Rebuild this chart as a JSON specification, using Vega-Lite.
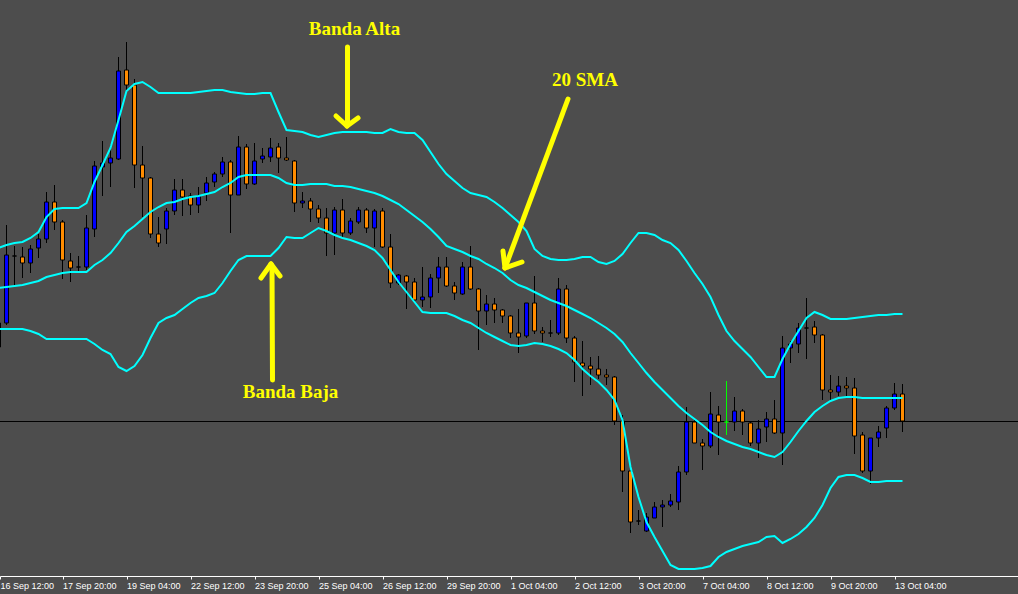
{
  "$schema": "https://vega.github.io/schema/vega-lite/v6.json",
  "width": 1018,
  "height": 576,
  "autosize": {"type": "none"},
  "padding": {"left": 0, "top": 0, "right": 0, "bottom": 18},
  "background": "#4d4d4d",
  "config": {"view": {"stroke": null}, "scale": {"continuousPadding": 0}},
  "datasets": {
    "candles": [
      {"i":-1,"o":1.2653,"h":1.2680,"l":1.2648,"c":1.2677,"k":"up","u":1.2752,"m":1.2712,"d":1.2671},
      {"i":0,"o":1.2677,"h":1.2775,"l":1.2675,"c":1.2745,"k":"up","u":1.2755,"m":1.2713,"d":1.2671},
      {"i":1,"o":1.2744,"h":1.2754,"l":1.2713,"c":1.2744,"k":"doji","u":1.2757,"m":1.2714,"d":1.2671},
      {"i":2,"o":1.2743,"h":1.2753,"l":1.2722,"c":1.2737,"k":"down","u":1.2758,"m":1.2715,"d":1.2671},
      {"i":3,"o":1.2737,"h":1.2755,"l":1.2727,"c":1.2751,"k":"up","u":1.2762,"m":1.2717,"d":1.2669},
      {"i":4,"o":1.2752,"h":1.2766,"l":1.2742,"c":1.2761,"k":"up","u":1.2768,"m":1.2719,"d":1.2666},
      {"i":5,"o":1.2761,"h":1.2808,"l":1.2757,"c":1.2798,"k":"up","u":1.2783,"m":1.2723,"d":1.2661},
      {"i":6,"o":1.2798,"h":1.2815,"l":1.2770,"c":1.2778,"k":"down","u":1.2791,"m":1.2725,"d":1.2661},
      {"i":7,"o":1.2778,"h":1.2780,"l":1.2721,"c":1.2740,"k":"down","u":1.2792,"m":1.2727,"d":1.2661},
      {"i":8,"o":1.2739,"h":1.2747,"l":1.2718,"c":1.2732,"k":"down","u":1.2792,"m":1.2728,"d":1.2661},
      {"i":9,"o":1.2733,"h":1.2744,"l":1.2728,"c":1.2733,"k":"doji","u":1.2792,"m":1.2728,"d":1.2661},
      {"i":10,"o":1.2733,"h":1.2785,"l":1.2730,"c":1.2772,"k":"up","u":1.2797,"m":1.2728,"d":1.2661},
      {"i":11,"o":1.2771,"h":1.2839,"l":1.2763,"c":1.2834,"k":"up","u":1.2818,"m":1.2735,"d":1.2656},
      {"i":12,"o":1.2833,"h":1.2859,"l":1.2804,"c":1.2837,"k":"up","u":1.2835,"m":1.2740,"d":1.2650},
      {"i":13,"o":1.2837,"h":1.2855,"l":1.2813,"c":1.2842,"k":"up","u":1.2852,"m":1.2747,"d":1.2646},
      {"i":14,"o":1.2841,"h":1.2943,"l":1.2840,"c":1.2929,"k":"up","u":1.2880,"m":1.2757,"d":1.2633},
      {"i":15,"o":1.2930,"h":1.2958,"l":1.2907,"c":1.2915,"k":"down","u":1.2909,"m":1.2768,"d":1.2629},
      {"i":16,"o":1.2915,"h":1.2921,"l":1.2812,"c":1.2835,"k":"down","u":1.2916,"m":1.2774,"d":1.2634},
      {"i":17,"o":1.2835,"h":1.2854,"l":1.2783,"c":1.2822,"k":"down","u":1.2918,"m":1.2781,"d":1.2645},
      {"i":18,"o":1.2822,"h":1.2823,"l":1.2762,"c":1.2766,"k":"down","u":1.2913,"m":1.2788,"d":1.2662},
      {"i":19,"o":1.2766,"h":1.2783,"l":1.2753,"c":1.2757,"k":"down","u":1.2907,"m":1.2793,"d":1.2677},
      {"i":20,"o":1.2771,"h":1.2792,"l":1.2756,"c":1.2789,"k":"up","u":1.2907,"m":1.2797,"d":1.2682},
      {"i":21,"o":1.2789,"h":1.2821,"l":1.2785,"c":1.2810,"k":"up","u":1.2907,"m":1.2798,"d":1.2685},
      {"i":22,"o":1.2810,"h":1.2821,"l":1.2784,"c":1.2803,"k":"down","u":1.2907,"m":1.2801,"d":1.2691},
      {"i":23,"o":1.2804,"h":1.2807,"l":1.2785,"c":1.2795,"k":"down","u":1.2907,"m":1.2803,"d":1.2697},
      {"i":24,"o":1.2795,"h":1.2813,"l":1.2787,"c":1.2804,"k":"up","u":1.2908,"m":1.2804,"d":1.2702},
      {"i":25,"o":1.2807,"h":1.2823,"l":1.2799,"c":1.2817,"k":"up","u":1.2909,"m":1.2806,"d":1.2704},
      {"i":26,"o":1.2818,"h":1.2828,"l":1.2813,"c":1.2826,"k":"up","u":1.2910,"m":1.2808,"d":1.2707},
      {"i":27,"o":1.2826,"h":1.2843,"l":1.2823,"c":1.2838,"k":"up","u":1.2910,"m":1.2813,"d":1.2717},
      {"i":28,"o":1.2838,"h":1.2840,"l":1.2767,"c":1.2805,"k":"down","u":1.2908,"m":1.2817,"d":1.2729},
      {"i":29,"o":1.2805,"h":1.2864,"l":1.2805,"c":1.2853,"k":"up","u":1.2907,"m":1.2823,"d":1.2740},
      {"i":30,"o":1.2853,"h":1.2856,"l":1.2811,"c":1.2816,"k":"down","u":1.2906,"m":1.2825,"d":1.2744},
      {"i":31,"o":1.2816,"h":1.2857,"l":1.2815,"c":1.2839,"k":"up","u":1.2906,"m":1.2825,"d":1.2744},
      {"i":32,"o":1.2841,"h":1.2852,"l":1.2837,"c":1.2844,"k":"up","u":1.2907,"m":1.2825,"d":1.2744},
      {"i":33,"o":1.2843,"h":1.2862,"l":1.2838,"c":1.2852,"k":"up","u":1.2907,"m":1.2825,"d":1.2744},
      {"i":34,"o":1.2853,"h":1.2857,"l":1.2827,"c":1.2842,"k":"down","u":1.2888,"m":1.2822,"d":1.2752},
      {"i":35,"o":1.2842,"h":1.2863,"l":1.2839,"c":1.2840,"k":"down","u":1.2870,"m":1.2817,"d":1.2763},
      {"i":36,"o":1.2839,"h":1.2840,"l":1.2788,"c":1.2797,"k":"down","u":1.2869,"m":1.2815,"d":1.2762},
      {"i":37,"o":1.2797,"h":1.2808,"l":1.2792,"c":1.2799,"k":"up","u":1.2868,"m":1.2815,"d":1.2762},
      {"i":38,"o":1.2799,"h":1.2802,"l":1.2778,"c":1.2791,"k":"down","u":1.2865,"m":1.2816,"d":1.2767},
      {"i":39,"o":1.2791,"h":1.2795,"l":1.2777,"c":1.2782,"k":"down","u":1.2863,"m":1.2816,"d":1.2772},
      {"i":40,"o":1.2782,"h":1.2792,"l":1.2744,"c":1.2767,"k":"down","u":1.2865,"m":1.2816,"d":1.2769},
      {"i":41,"o":1.2767,"h":1.2793,"l":1.2745,"c":1.2790,"k":"up","u":1.2867,"m":1.2814,"d":1.2765},
      {"i":42,"o":1.2790,"h":1.2801,"l":1.2762,"c":1.2767,"k":"down","u":1.2868,"m":1.2814,"d":1.2762},
      {"i":43,"o":1.2767,"h":1.2782,"l":1.2765,"c":1.2779,"k":"up","u":1.2868,"m":1.2813,"d":1.2760},
      {"i":44,"o":1.2778,"h":1.2793,"l":1.2776,"c":1.2790,"k":"up","u":1.2868,"m":1.2811,"d":1.2757},
      {"i":45,"o":1.2790,"h":1.2792,"l":1.2767,"c":1.2772,"k":"down","u":1.2868,"m":1.2809,"d":1.2754},
      {"i":46,"o":1.2772,"h":1.2791,"l":1.2753,"c":1.2789,"k":"up","u":1.2867,"m":1.2807,"d":1.2750},
      {"i":47,"o":1.2789,"h":1.2792,"l":1.2752,"c":1.2753,"k":"down","u":1.2867,"m":1.2804,"d":1.2742},
      {"i":48,"o":1.2753,"h":1.2766,"l":1.2712,"c":1.2717,"k":"down","u":1.2871,"m":1.2800,"d":1.2730},
      {"i":49,"o":1.2717,"h":1.2726,"l":1.2715,"c":1.2725,"k":"up","u":1.2868,"m":1.2796,"d":1.2718},
      {"i":50,"o":1.2724,"h":1.2725,"l":1.2691,"c":1.2718,"k":"down","u":1.2867,"m":1.2790,"d":1.2708},
      {"i":51,"o":1.2718,"h":1.2722,"l":1.2699,"c":1.2700,"k":"down","u":1.2867,"m":1.2784,"d":1.2698},
      {"i":52,"o":1.2700,"h":1.2733,"l":1.2693,"c":1.2703,"k":"up","u":1.2860,"m":1.2778,"d":1.2688},
      {"i":53,"o":1.2703,"h":1.2726,"l":1.2692,"c":1.2722,"k":"up","u":1.2848,"m":1.2771,"d":1.2687},
      {"i":54,"o":1.2722,"h":1.2743,"l":1.2707,"c":1.2733,"k":"up","u":1.2836,"m":1.2763,"d":1.2687},
      {"i":55,"o":1.2733,"h":1.2743,"l":1.2713,"c":1.2714,"k":"down","u":1.2826,"m":1.2754,"d":1.2687},
      {"i":56,"o":1.2714,"h":1.2718,"l":1.2700,"c":1.2707,"k":"down","u":1.2819,"m":1.2751,"d":1.2684},
      {"i":57,"o":1.2706,"h":1.2738,"l":1.2705,"c":1.2733,"k":"up","u":1.2812,"m":1.2748,"d":1.2680},
      {"i":58,"o":1.2733,"h":1.2754,"l":1.2710,"c":1.2711,"k":"down","u":1.2807,"m":1.2744,"d":1.2677},
      {"i":59,"o":1.2711,"h":1.2712,"l":1.2650,"c":1.2689,"k":"down","u":1.2805,"m":1.2741,"d":1.2672},
      {"i":60,"o":1.2689,"h":1.2705,"l":1.2675,"c":1.2696,"k":"up","u":1.2803,"m":1.2736,"d":1.2667},
      {"i":61,"o":1.2696,"h":1.2702,"l":1.2677,"c":1.2690,"k":"down","u":1.2798,"m":1.2732,"d":1.2663},
      {"i":62,"o":1.2690,"h":1.2691,"l":1.2677,"c":1.2684,"k":"down","u":1.2792,"m":1.2727,"d":1.2659},
      {"i":63,"o":1.2684,"h":1.2685,"l":1.2662,"c":1.2667,"k":"down","u":1.2785,"m":1.2720,"d":1.2655},
      {"i":64,"o":1.2667,"h":1.2691,"l":1.2647,"c":1.2663,"k":"down","u":1.2778,"m":1.2715,"d":1.2654},
      {"i":65,"o":1.2664,"h":1.2697,"l":1.2662,"c":1.2697,"k":"up","u":1.2769,"m":1.2712,"d":1.2655},
      {"i":66,"o":1.2697,"h":1.2724,"l":1.2666,"c":1.2669,"k":"down","u":1.2751,"m":1.2708,"d":1.2657},
      {"i":67,"o":1.2669,"h":1.2673,"l":1.2658,"c":1.2667,"k":"down","u":1.2744,"m":1.2704,"d":1.2656},
      {"i":68,"o":1.2667,"h":1.2680,"l":1.2663,"c":1.2667,"k":"doji","u":1.2741,"m":1.2700,"d":1.2654},
      {"i":69,"o":1.2667,"h":1.2722,"l":1.2665,"c":1.2711,"k":"up","u":1.2740,"m":1.2697,"d":1.2651},
      {"i":70,"o":1.2711,"h":1.2715,"l":1.2657,"c":1.2662,"k":"down","u":1.2740,"m":1.2694,"d":1.2647},
      {"i":71,"o":1.2662,"h":1.2664,"l":1.2618,"c":1.2638,"k":"down","u":1.2741,"m":1.2690,"d":1.2640},
      {"i":72,"o":1.2637,"h":1.2659,"l":1.2604,"c":1.2634,"k":"down","u":1.2743,"m":1.2686,"d":1.2631},
      {"i":73,"o":1.2634,"h":1.2643,"l":1.2615,"c":1.2631,"k":"down","u":1.2743,"m":1.2682,"d":1.2624},
      {"i":74,"o":1.2631,"h":1.2644,"l":1.2621,"c":1.2625,"k":"down","u":1.2738,"m":1.2677,"d":1.2618},
      {"i":75,"o":1.2625,"h":1.2631,"l":1.2615,"c":1.2623,"k":"down","u":1.2736,"m":1.2672,"d":1.2610},
      {"i":76,"o":1.2623,"h":1.2624,"l":1.2575,"c":1.2579,"k":"down","u":1.2739,"m":1.2666,"d":1.2600},
      {"i":77,"o":1.2579,"h":1.2585,"l":1.2508,"c":1.2529,"k":"down","u":1.2746,"m":1.2658,"d":1.2580},
      {"i":78,"o":1.2529,"h":1.2530,"l":1.2467,"c":1.2478,"k":"down","u":1.2757,"m":1.2647,"d":1.2533},
      {"i":79,"o":1.2479,"h":1.2490,"l":1.2475,"c":1.2479,"k":"doji","u":1.2767,"m":1.2637,"d":1.2503},
      {"i":80,"o":1.2469,"h":1.2487,"l":1.2468,"c":1.2483,"k":"up","u":1.2767,"m":1.2627,"d":1.2478},
      {"i":81,"o":1.2482,"h":1.2498,"l":1.2482,"c":1.2493,"k":"up","u":1.2765,"m":1.2618,"d":1.2463},
      {"i":82,"o":1.2493,"h":1.2500,"l":1.2473,"c":1.2495,"k":"up","u":1.2760,"m":1.2610,"d":1.2449},
      {"i":83,"o":1.2495,"h":1.2506,"l":1.2493,"c":1.2499,"k":"up","u":1.2757,"m":1.2602,"d":1.2435},
      {"i":84,"o":1.2498,"h":1.2534,"l":1.2490,"c":1.2528,"k":"up","u":1.2750,"m":1.2594,"d":1.2431},
      {"i":85,"o":1.2528,"h":1.2593,"l":1.2525,"c":1.2578,"k":"up","u":1.2739,"m":1.2587,"d":1.2431},
      {"i":86,"o":1.2578,"h":1.2582,"l":1.2557,"c":1.2557,"k":"down","u":1.2727,"m":1.2581,"d":1.2431},
      {"i":87,"o":1.2557,"h":1.2561,"l":1.2530,"c":1.2554,"k":"down","u":1.2716,"m":1.2575,"d":1.2432},
      {"i":88,"o":1.2554,"h":1.2608,"l":1.2552,"c":1.2586,"k":"up","u":1.2703,"m":1.2568,"d":1.2434},
      {"i":89,"o":1.2585,"h":1.2594,"l":1.2545,"c":1.2578,"k":"down","u":1.2685,"m":1.2563,"d":1.2443},
      {"i":90,"o":1.2578,"h":1.2619,"l":1.2565,"c":1.2578,"k":"mark","u":1.2669,"m":1.2559,"d":1.2448},
      {"i":91,"o":1.2578,"h":1.2603,"l":1.2569,"c":1.2589,"k":"up","u":1.2659,"m":1.2556,"d":1.2451},
      {"i":92,"o":1.2589,"h":1.2591,"l":1.2565,"c":1.2578,"k":"down","u":1.2651,"m":1.2553,"d":1.2454},
      {"i":93,"o":1.2577,"h":1.2578,"l":1.2554,"c":1.2557,"k":"down","u":1.2643,"m":1.2551,"d":1.2456},
      {"i":94,"o":1.2557,"h":1.2580,"l":1.2542,"c":1.2571,"k":"up","u":1.2633,"m":1.2548,"d":1.2458},
      {"i":95,"o":1.2573,"h":1.2588,"l":1.2558,"c":1.2581,"k":"up","u":1.2623,"m":1.2545,"d":1.2463},
      {"i":96,"o":1.2581,"h":1.2600,"l":1.2566,"c":1.2567,"k":"down","u":1.2623,"m":1.2543,"d":1.2464},
      {"i":97,"o":1.2567,"h":1.2664,"l":1.2535,"c":1.2652,"k":"up","u":1.2641,"m":1.2548,"d":1.2457},
      {"i":98,"o":1.2652,"h":1.2659,"l":1.2637,"c":1.2656,"k":"up","u":1.2656,"m":1.2558,"d":1.2461},
      {"i":99,"o":1.2656,"h":1.2677,"l":1.2647,"c":1.2672,"k":"up","u":1.2669,"m":1.2569,"d":1.2466},
      {"i":100,"o":1.2672,"h":1.2702,"l":1.2641,"c":1.2672,"k":"doji","u":1.2682,"m":1.2579,"d":1.2473},
      {"i":101,"o":1.2673,"h":1.2679,"l":1.2657,"c":1.2665,"k":"down","u":1.2688,"m":1.2588,"d":1.2482},
      {"i":102,"o":1.2665,"h":1.2666,"l":1.2600,"c":1.2610,"k":"down","u":1.2685,"m":1.2594,"d":1.2495},
      {"i":103,"o":1.2610,"h":1.2625,"l":1.2598,"c":1.2608,"k":"down","u":1.2681,"m":1.2599,"d":1.2512},
      {"i":104,"o":1.2608,"h":1.2624,"l":1.2604,"c":1.2614,"k":"up","u":1.2681,"m":1.2602,"d":1.2523},
      {"i":105,"o":1.2614,"h":1.2623,"l":1.2603,"c":1.2612,"k":"down","u":1.2681,"m":1.2603,"d":1.2525},
      {"i":106,"o":1.2612,"h":1.2622,"l":1.2546,"c":1.2564,"k":"down","u":1.2682,"m":1.2603,"d":1.2525},
      {"i":107,"o":1.2565,"h":1.2568,"l":1.2527,"c":1.2529,"k":"down","u":1.2683,"m":1.2602,"d":1.2522},
      {"i":108,"o":1.2529,"h":1.2562,"l":1.2516,"c":1.2562,"k":"up","u":1.2684,"m":1.2602,"d":1.2518},
      {"i":109,"o":1.2562,"h":1.2574,"l":1.2553,"c":1.2568,"k":"up","u":1.2685,"m":1.2602,"d":1.2518},
      {"i":110,"o":1.2572,"h":1.2594,"l":1.2562,"c":1.2592,"k":"up","u":1.2685,"m":1.2602,"d":1.2519},
      {"i":111,"o":1.2592,"h":1.2617,"l":1.2590,"c":1.2606,"k":"up","u":1.2686,"m":1.2602,"d":1.2519},
      {"i":112,"o":1.2606,"h":1.2616,"l":1.2568,"c":1.2579,"k":"down","u":1.2686,"m":1.2602,"d":1.2519}
    ],
    "arrows": [
      {"x1":42.625,"y1":1.2953,"x2":42.625,"y2":1.2876},
      {"x1":42.5625,"y1":1.2874,"x2":41.1875,"y2":1.2884},
      {"x1":42.5625,"y1":1.2874,"x2":43.9375,"y2":1.2882},
      {"x1":70.1875,"y1":1.2901,"x2":62.3125,"y2":1.2732},
      {"x1":62.3125,"y1":1.2732,"x2":62.0625,"y2":1.2749},
      {"x1":62.3125,"y1":1.2732,"x2":64.4375,"y2":1.2738},
      {"x1":33.25,"y1":1.2620,"x2":33.1875,"y2":1.2734},
      {"x1":33.0625,"y1":1.2736,"x2":31.8125,"y2":1.2722},
      {"x1":33.0625,"y1":1.2736,"x2":34.1875,"y2":1.2724}
    ],
    "notes": [
      {"tx":43.5,"ty":1.2965,"label":"Banda Alta"},
      {"tx":72.3125,"ty":1.2914,"label":"20 SMA"},
      {"tx":35.5,"ty":1.2602,"label":"Banda Baja"}
    ]
  },
  "layer": [
    {
      "data": {"name": "candles"},
      "mark": {"type": "rule", "color": "#000000", "strokeWidth": 1},
      "encoding": {
        "y": {"datum": 1.25785, "type": "quantitative", "scale": {"domain": [1.2424, 1.3], "nice": false, "zero": false}, "axis": null, "title": null}
      }
    },
    {
      "data": {"name": "candles"},
      "mark": {"type": "rule", "strokeWidth": 1},
      "encoding": {
        "x": {"field": "i", "type": "quantitative", "scale": {"domain": [-0.8125, 126.4375], "nice": false, "zero": false, "padding": 0}, "title": null,
          "axis": {"values": [-0.8125,7,15,23,31,39,47,55,63,71,79,87,95,103,111],
            "labelExpr": "datum.value < 0 ? '16 Sep 12:00' : ['16 Sep 12:00','17 Sep 20:00','19 Sep 04:00','22 Sep 12:00','23 Sep 20:00','25 Sep 04:00','26 Sep 12:00','29 Sep 20:00','1 Oct 04:00','2 Oct 12:00','3 Oct 20:00','7 Oct 04:00','8 Oct 12:00','9 Oct 20:00','13 Oct 04:00'][(datum.value+1)/8]",
            "labelAlign": "left", "labelBaseline": "top", "labelFont": "Liberation Sans", "labelFontSize": 9, "labelColor": "#ffffff",
            "labelPadding": 2, "labelDx": 1, "labelFlush": false, "labelOverlap": false, "labelBound": false,
            "tickColor": "#ffffff", "tickSize": 3, "tickWidth": 1, "domainColor": "#ffffff", "domainWidth": 1, "grid": false, "title": null}},
        "y": {"field": "h", "type": "quantitative", "scale": {"domain": [1.2424, 1.3], "nice": false, "zero": false}, "axis": null, "title": null},
        "y2": {"field": "l"},
        "color": {"condition": {"test": "datum.k === 'mark'", "value": "#00ff00"}, "value": "#000000"}
      }
    },
    {
      "data": {"name": "candles"},
      "mark": {"type": "bar", "width": 4, "strokeWidth": 1},
      "encoding": {
        "x": {"field": "i", "type": "quantitative", "scale": {"domain": [-0.8125, 126.4375], "nice": false, "zero": false, "padding": 0}, "title": null},
        "y": {"field": "o", "type": "quantitative", "scale": {"domain": [1.2424, 1.3], "nice": false, "zero": false}, "axis": null, "title": null},
        "y2": {"field": "c"},
        "fill": {"field": "k", "type": "nominal", "scale": {"domain": ["up", "down", "doji", "mark"], "range": ["#0000ff", "#ff8c00", "#000000", "#00ff00"]}, "legend": null},
        "stroke": {"condition": {"test": "datum.k === 'mark'", "value": "#00ff00"}, "value": "#000000"}
      }
    },
    {
      "data": {"name": "candles"},
      "mark": {"type": "line", "color": "#00ffff", "strokeWidth": 2},
      "encoding": {
        "x": {"field": "i", "type": "quantitative", "scale": {"domain": [-0.8125, 126.4375], "nice": false, "zero": false, "padding": 0}, "title": null},
        "y": {"field": "u", "type": "quantitative", "scale": {"domain": [1.2424, 1.3], "nice": false, "zero": false}, "axis": null, "title": null}
      }
    },
    {
      "data": {"name": "candles"},
      "mark": {"type": "line", "color": "#00ffff", "strokeWidth": 2},
      "encoding": {
        "x": {"field": "i", "type": "quantitative", "scale": {"domain": [-0.8125, 126.4375], "nice": false, "zero": false, "padding": 0}, "title": null},
        "y": {"field": "m", "type": "quantitative", "scale": {"domain": [1.2424, 1.3], "nice": false, "zero": false}, "axis": null, "title": null}
      }
    },
    {
      "data": {"name": "candles"},
      "mark": {"type": "line", "color": "#00ffff", "strokeWidth": 2},
      "encoding": {
        "x": {"field": "i", "type": "quantitative", "scale": {"domain": [-0.8125, 126.4375], "nice": false, "zero": false, "padding": 0}, "title": null},
        "y": {"field": "d", "type": "quantitative", "scale": {"domain": [1.2424, 1.3], "nice": false, "zero": false}, "axis": null, "title": null}
      }
    },
    {
      "data": {"name": "arrows"},
      "mark": {"type": "rule", "color": "#ffff00", "strokeWidth": 5, "strokeCap": "round"},
      "encoding": {
        "x": {"field": "x1", "type": "quantitative", "scale": {"domain": [-0.8125, 126.4375], "nice": false, "zero": false, "padding": 0}, "title": null},
        "x2": {"field": "x2"},
        "y": {"field": "y1", "type": "quantitative", "scale": {"domain": [1.2424, 1.3], "nice": false, "zero": false}, "axis": null, "title": null},
        "y2": {"field": "y2"}
      }
    },
    {
      "data": {"name": "notes"},
      "mark": {"type": "text", "color": "#ffff00", "font": "Liberation Serif", "fontWeight": "bold", "fontSize": 19, "align": "center", "baseline": "alphabetic"},
      "encoding": {
        "x": {"field": "tx", "type": "quantitative", "scale": {"domain": [-0.8125, 126.4375], "nice": false, "zero": false, "padding": 0}, "title": null},
        "y": {"field": "ty", "type": "quantitative", "scale": {"domain": [1.2424, 1.3], "nice": false, "zero": false}, "axis": null, "title": null},
        "text": {"field": "label"}
      }
    }
  ]
}
